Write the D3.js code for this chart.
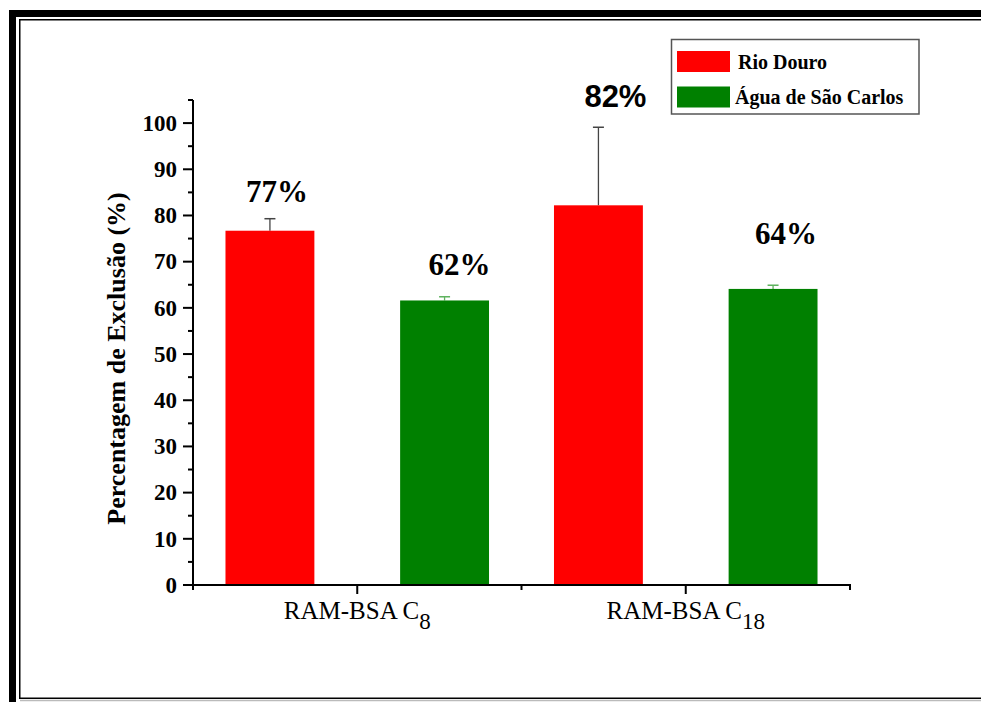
<!DOCTYPE html>
<html>
<head>
<meta charset="utf-8">
<script src="https://cdn.jsdelivr.net/npm/d3@7"></script>
<style>
  html, body { margin: 0; padding: 0; background: #fff; overflow: hidden; }
  svg { display: block; }
</style>
</head>
<body>
<svg id="chart" width="981" height="702"></svg>
<script>
// Exclusion percentage per RAM-BSA phase and water matrix
const groups = ["C8", "C18"];
const groupBase = "RAM-BSA C";
const groupSub = ["8", "18"];
const seriesNames = ["Rio Douro", "Água de São Carlos"];
const seriesColors = ["#ff0000", "#008000"];
const errColors = ["#444444", "#5fb35f"];
const rioDouro = [76.7, 82.2];
const aguaSaoCarlos = [61.6, 64.1];
const rioDouroErr = [2.6, 16.9];
const aguaSaoCarlosErr = [0.8, 0.8];
const yTicks = [0, 10, 20, 30, 40, 50, 60, 70, 80, 90, 100];
const yMinorTicks = [5, 15, 25, 35, 45, 55, 65, 75, 85, 95, 105];
// where each value label sits above its bar (value units) and its horizontal nudge (px)
const labelY = [[83.0, 103.5], [67.1, 73.8]];
const labelDx = [[7, 17], [15, 13]];
const labelFont = [["serif", "sans"], ["serif", "serif"]];

const svg = d3.select("#chart");
const serifF = "Liberation Serif, Times New Roman, serif";
const sansF = "Liberation Sans, Arial, sans-serif";

// page frame: heavy outer border with a thin inner rule
svg.append("rect").attr("x", 12.5).attr("y", 13.5).attr("width", 1000).attr("height", 760)
  .attr("fill", "none").attr("stroke", "#000").attr("stroke-width", 7);
svg.append("rect").attr("x", 19.75).attr("y", 19.75).attr("width", 1000).attr("height", 678.5)
  .attr("fill", "none").attr("stroke", "#000").attr("stroke-width", 1.5);
svg.append("line").attr("x1", 20).attr("x2", 981).attr("y1", 700.5).attr("y2", 700.5)
  .attr("stroke", "#bbb").attr("stroke-width", 1.5);

const plot = { left: 193, right: 850, top: 100, bottom: 585 };

const y = d3.scaleLinear().domain([0, 105]).range([plot.bottom, plot.top]);
const x0 = d3.scaleBand().domain(groups).range([plot.left, plot.right]).paddingInner(0).paddingOuter(0);
const x1 = d3.scaleBand().domain([0, 1]).range([0, x0.bandwidth()]).paddingInner(0.491).paddingOuter(0.186);

const values = [rioDouro, aguaSaoCarlos];
const errs = [rioDouroErr, aguaSaoCarlosErr];

const rows = [];
values.forEach((vals, s) => vals.forEach((v, g) => rows.push({ s, g, v, e: errs[s][g] })));

// error bars (upper whisker only)
const eb = svg.append("g");
rows.forEach(d => {
  const cx = x0(groups[d.g]) + x1(d.s) + x1.bandwidth() / 2;
  eb.append("line").attr("x1", cx).attr("x2", cx).attr("y1", y(d.v)).attr("y2", y(d.v + d.e))
    .attr("stroke", errColors[d.s]).attr("stroke-width", 1.3);
  eb.append("line").attr("x1", cx - 5.5).attr("x2", cx + 5.5).attr("y1", y(d.v + d.e)).attr("y2", y(d.v + d.e))
    .attr("stroke", errColors[d.s]).attr("stroke-width", 1.5);
});

// bars
svg.append("g").selectAll("rect").data(rows).join("rect")
  .attr("x", d => x0(groups[d.g]) + x1(d.s))
  .attr("width", x1.bandwidth())
  .attr("y", d => y(d.v))
  .attr("height", d => y(0) - y(d.v))
  .attr("fill", d => seriesColors[d.s]);

// value labels
svg.append("g").selectAll("text").data(rows).join("text")
  .attr("x", d => x0(groups[d.g]) + x1(d.s) + x1.bandwidth() / 2 + labelDx[d.s][d.g])
  .attr("y", d => y(labelY[d.s][d.g]))
  .attr("text-anchor", "middle")
  .attr("font-family", d => labelFont[d.s][d.g] === "sans" ? sansF : serifF)
  .attr("font-weight", "bold")
  .attr("font-size", 31)
  .text(d => d3.format(".0f")(d.v) + "%");

// y axis
const yAxis = svg.append("g");
yAxis.append("line").attr("x1", plot.left).attr("x2", plot.left).attr("y1", plot.top).attr("y2", plot.bottom + 1)
  .attr("stroke", "#000").attr("stroke-width", 2);
yAxis.selectAll("line.major").data(yTicks).join("line").attr("class", "major")
  .attr("x1", plot.left - 10).attr("x2", plot.left).attr("y1", d => y(d)).attr("y2", d => y(d))
  .attr("stroke", "#000").attr("stroke-width", 2);
yAxis.selectAll("line.minor").data(yMinorTicks).join("line").attr("class", "minor")
  .attr("x1", plot.left - 5).attr("x2", plot.left).attr("y1", d => y(d)).attr("y2", d => y(d))
  .attr("stroke", "#000").attr("stroke-width", 2);
yAxis.selectAll("text").data(yTicks).join("text")
  .attr("x", plot.left - 16).attr("y", d => y(d)).attr("dy", "0.34em")
  .attr("text-anchor", "end")
  .attr("font-family", serifF).attr("font-weight", "bold").attr("font-size", 23)
  .text(d => d);

svg.append("text")
  .attr("transform", `translate(125, ${(plot.top + plot.bottom) / 2 + 16}) rotate(-90)`)
  .attr("text-anchor", "middle")
  .attr("font-family", serifF).attr("font-weight", "bold").attr("font-size", 26)
  .text("Percentagem de Exclusão (%)");

// x axis: major ticks at group centres, minor at group boundaries
const xAxis = svg.append("g");
xAxis.append("line").attr("x1", plot.left - 1).attr("x2", plot.right + 1).attr("y1", plot.bottom).attr("y2", plot.bottom)
  .attr("stroke", "#000").attr("stroke-width", 2);
const bounds = groups.map(g => x0(g)).concat([x0(groups[groups.length - 1]) + x0.bandwidth()]);
xAxis.selectAll("line.minor").data(bounds).join("line").attr("class", "minor")
  .attr("x1", d => d).attr("x2", d => d).attr("y1", plot.bottom).attr("y2", plot.bottom + 5)
  .attr("stroke", "#000").attr("stroke-width", 2);
xAxis.selectAll("line.major").data(groups).join("line").attr("class", "major")
  .attr("x1", d => x0(d) + x0.bandwidth() / 2).attr("x2", d => x0(d) + x0.bandwidth() / 2)
  .attr("y1", plot.bottom).attr("y2", plot.bottom + 9)
  .attr("stroke", "#000").attr("stroke-width", 2);
const catLabels = xAxis.selectAll("text").data(groups).join("text")
  .attr("x", d => x0(d) + x0.bandwidth() / 2)
  .attr("y", plot.bottom + 34)
  .attr("text-anchor", "middle")
  .attr("font-family", serifF).attr("font-size", 25);
catLabels.append("tspan").text(groupBase);
catLabels.append("tspan").attr("dy", 10).attr("font-size", 23).text((d, i) => groupSub[i]);

// legend
const lg = svg.append("g");
lg.append("rect").attr("x", 671.5).attr("y", 39.5).attr("width", 247.5).attr("height", 74.5)
  .attr("fill", "#fff").attr("stroke", "#555").attr("stroke-width", 1.5);
seriesNames.forEach((name, i) => {
  lg.append("rect").attr("x", 677).attr("y", 51 + i * 35.5).attr("width", 53).attr("height", 21)
    .attr("fill", seriesColors[i]);
  lg.append("text").attr("x", i === 0 ? 738 : 735).attr("y", 69 + i * 35)
    .attr("font-family", serifF).attr("font-weight", "bold").attr("font-size", 20).text(name);
});
</script>
</body>
</html>
